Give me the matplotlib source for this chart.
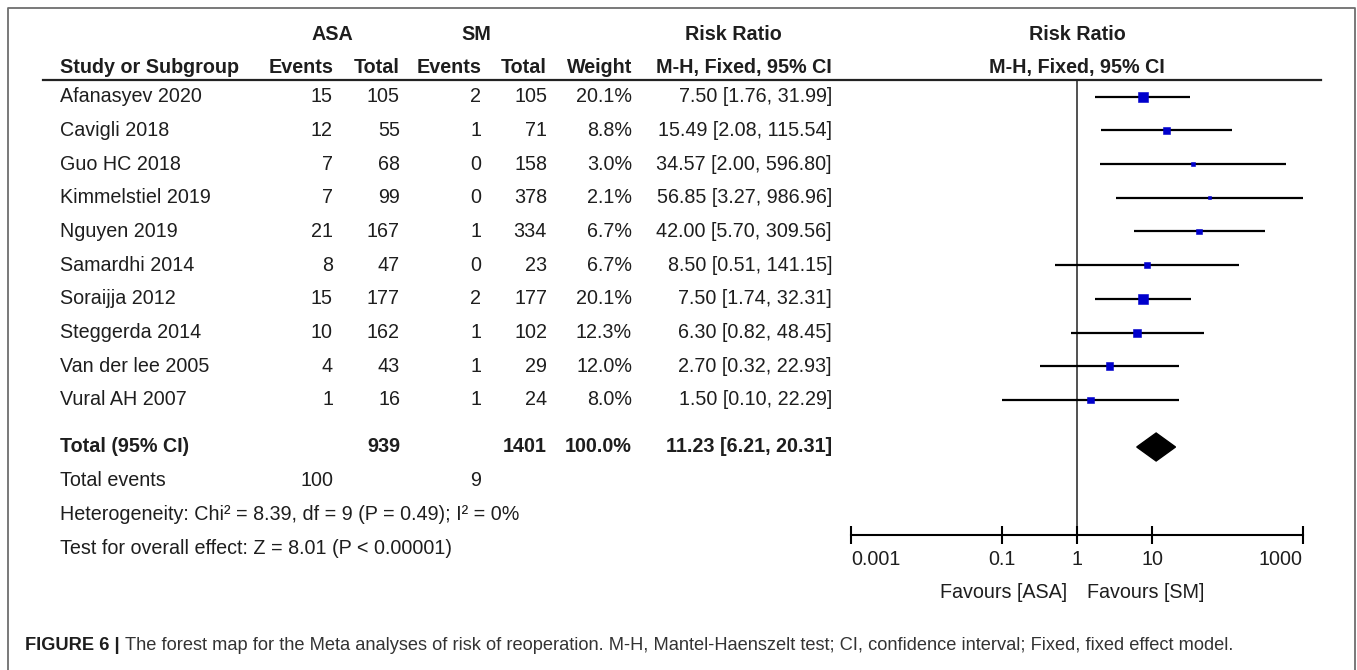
import matplotlib.pyplot as plt
import numpy as np
from matplotlib import font_manager
from matplotlib.lines import Line2D
from matplotlib.ticker import NullLocator
import matplotlib.transforms as mtransforms

# Data for plotting
studies = ["Afanasyev 2020", "Cavigli 2018", "Guo HC 2018", "Kimmelstiel 2019", "Nguyen 2019",
           "Samardhi 2014", "Soraijja 2012", "Steggerda 2014", "Van der lee 2005", "Vural AH 2007"]
asa_events = [15, 12, 7, 7, 21, 8, 15, 10, 4, 1]
asa_total = [105, 55, 68, 99, 167, 47, 177, 162, 43, 16]
sm_events = [2, 1, 0, 0, 1, 0, 2, 1, 1, 1]
sm_total = [105, 71, 158, 378, 334, 23, 177, 102, 29, 24]
weight = [20.1, 8.8, 3.0, 2.1, 6.7, 6.7, 20.1, 12.3, 12.0, 8.0]
rr = [7.50, 15.49, 34.57, 56.85, 42.00, 8.50, 7.50, 6.30, 2.70, 1.50]
ci_low = [1.76, 2.08, 2.00, 3.27, 5.70, 0.51, 1.74, 0.82, 0.32, 0.10]
ci_high = [31.99, 115.54, 596.80, 986.96, 309.56, 141.15, 32.31, 48.45, 22.93, 22.29]

total_asa = 939
total_sm = 1401
total_weight = 100.0
events_asa = 100
events_sm = 9
pooled_rr = 11.23
pooled_low = 6.21
pooled_high = 20.31
heterogeneity = "Heterogeneity: Chi\u00b2 = 8.39, df = 9 (P = 0.49); I\u00b2 = 0%"
overall_test = "Test for overall effect: Z = 8.01 (P < 0.00001)"

xticks = [0.001, 0.1, 1, 10, 1000]
xtick_labels = ["0.001", "0.1", "1", "10", "1000"]

caption_bold = "FIGURE 6 |"
caption_text = ("The forest map for the Meta analyses of risk of reoperation. M-H, Mantel-Haenszelt test; "
                "CI, confidence interval; Fixed, fixed effect model.")

# layout in pixels
W, H = 1357, 670
ROW0, ROWH = 96.7, 33.7


def fx(px):
    return px / W


def fy(py):
    return 1 - py / H


def row_of(py):
    return (py - ROW0) / ROWH


names = {f.name for f in font_manager.fontManager.ttflist}
if "Liberation Sans Narrow" in names:
    FONT, FS = "Liberation Sans Narrow", 17
elif "Liberation Sans" in names:
    FONT, FS = "Liberation Sans", 14.2
else:
    FONT, FS = "DejaVu Sans", 13
plt.rcParams["font.family"] = [FONT, "DejaVu Sans"]
TXT = "#1e1e1e"

fig = plt.figure(figsize=(W / 100, H / 100), dpi=100)

ax = fig.add_axes([fx(851), fy(535), (1303 - 851) / W, (535 - 80) / H])
ax.set_xscale("log")
ax.set_xlim(0.001, 1000)
ax.set_ylim(row_of(535), row_of(80))

rows = np.arange(len(studies))
ax.hlines(rows, ci_low, ci_high, color="black", lw=1.6, zorder=2)
side = 2.3 * np.sqrt(weight) * 0.72
ax.scatter(rr, rows, s=side ** 2, marker="s", color="#0000cc", edgecolors="#0000cc",
           linewidths=0.4, zorder=3)

total_row = row_of(447)
half_h = 14 / ROWH
ax.fill([pooled_low, pooled_rr, pooled_high, pooled_rr],
        [total_row, total_row - half_h, total_row, total_row + half_h], color="black", zorder=3)

ax.axvline(1, color="#222222", lw=1.1, zorder=1)

for s in ["top", "left", "right"]:
    ax.spines[s].set_visible(False)
ax.spines["bottom"].set_linewidth(1.5)
ax.set_xticks(xticks)
ax.set_xticklabels(xtick_labels)
ax.xaxis.set_minor_locator(NullLocator())
ax.tick_params(axis="x", direction="inout", length=13, width=1.5, labelsize=FS, pad=4.5, labelcolor=TXT)
tick_texts = ax.get_xticklabels()
tick_texts[0].set_ha("left")
tick_texts[-1].set_ha("right")
ax.set_yticks([])
ax.set_facecolor("none")

# table text
tr = mtransforms.blended_transform_factory(fig.transFigure, ax.transData)


def put(px, row, s, ha="right", bold=False):
    ax.text(fx(px), row, s, transform=tr, ha=ha, va="center", fontsize=FS, color=TXT,
            fontweight="bold" if bold else "normal", clip_on=False)


hdr1, hdr2 = row_of(35), row_of(68)
put(332, hdr1, "ASA", ha="center", bold=True)
put(476, hdr1, "SM", ha="center", bold=True)
put(733, hdr1, "Risk Ratio", ha="center", bold=True)
put(1077, hdr1, "Risk Ratio", ha="center", bold=True)
put(60, hdr2, "Study or Subgroup", ha="left", bold=True)
put(333, hdr2, "Events", bold=True)
put(400, hdr2, "Total", bold=True)
put(481, hdr2, "Events", bold=True)
put(547, hdr2, "Total", bold=True)
put(632, hdr2, "Weight", bold=True)
put(832, hdr2, "M-H, Fixed, 95% CI", bold=True)
put(1077, hdr2, "M-H, Fixed, 95% CI", ha="center", bold=True)

for i in rows:
    put(60, i, studies[i], ha="left")
    put(333, i, str(asa_events[i]))
    put(400, i, str(asa_total[i]))
    put(481, i, str(sm_events[i]))
    put(547, i, str(sm_total[i]))
    put(632, i, f"{weight[i]:.1f}%")
    put(832, i, f"{rr[i]:.2f} [{ci_low[i]:.2f}, {ci_high[i]:.2f}]")

put(60, total_row, "Total (95% CI)", ha="left", bold=True)
put(400, total_row, str(total_asa), bold=True)
put(547, total_row, str(total_sm), bold=True)
put(632, total_row, f"{total_weight:.1f}%", bold=True)
put(832, total_row, f"{pooled_rr:.2f} [{pooled_low:.2f}, {pooled_high:.2f}]", bold=True)

put(60, row_of(480), "Total events", ha="left")
put(333, row_of(480), str(events_asa))
put(481, row_of(480), str(events_sm))
put(60, row_of(514), heterogeneity, ha="left")
put(60, row_of(548), overall_test, ha="left")

put(1067, row_of(592), "Favours [ASA]")
put(1087, row_of(592), "Favours [SM]", ha="left")

# header underline and frame
fig.add_artist(Line2D([fx(43), fx(1321)], [fy(80), fy(80)], color="#222222", lw=1.6))
fig.add_artist(Line2D([fx(8), fx(8), fx(1355), fx(1355)], [fy(672), fy(8), fy(8), fy(672)],
                      color="#6e6e6e", lw=1.3))

# caption, sized so that it ends near x=1237 like the figure
CAP_FS = FS * 0.85
cap = fig.text(fx(25), fy(645), caption_bold, ha="left", va="center", fontsize=CAP_FS,
               fontweight="bold", color=TXT)
rest = fig.text(0, fy(645), caption_text, ha="left", va="center", fontsize=CAP_FS, color="#333333")
fig.canvas.draw()
w_total = cap.get_window_extent().width + 5 + rest.get_window_extent().width
CAP_FS = CAP_FS * (1237 - 25) / w_total
cap.set_fontsize(CAP_FS)
rest.set_fontsize(CAP_FS)
fig.canvas.draw()
rest.set_x((cap.get_window_extent().x1 + 5) / W)

fig.savefig("out.png", dpi=100)
